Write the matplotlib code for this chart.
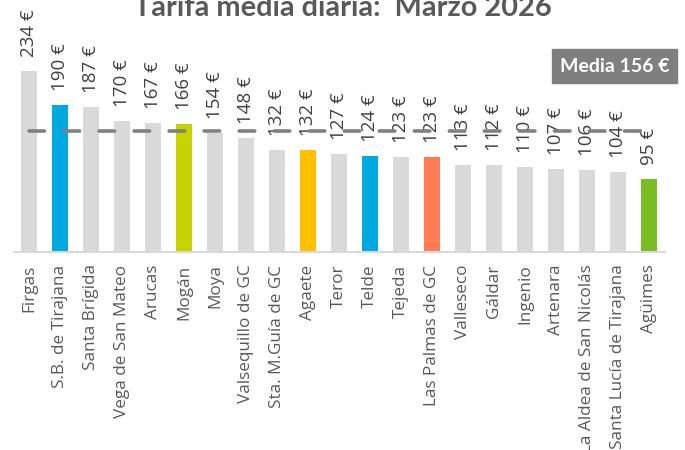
import matplotlib
matplotlib.use("Agg")
import matplotlib.pyplot as plt
from matplotlib.patches import Rectangle

municipios = ["Firgas", "S.B. de Tirajana", "Santa Brígida", "Vega de San Mateo",
              "Arucas", "Mogán", "Moya", "Valsequillo de GC", "Sta. M.Guía de GC",
              "Agaete", "Teror", "Telde", "Tejeda", "Las Palmas de GC", "Valleseco",
              "Gáldar", "Ingenio", "Artenara", "La Aldea de San Nicolás",
              "Santa Lucía de Tirajana", "Agüimes"]
tarifa = [234, 190, 187, 170, 167, 166, 154, 148, 132, 132, 127, 124, 123, 123,
          113, 112, 110, 107, 106, 104, 95]
media = 156
destacados = {
    "S.B. de Tirajana": "#00a9e0",
    "Telde": "#00a9e0",
    "Mogán": "#c6d300",
    "Agaete": "#ffc000",
    "Las Palmas de GC": "#ff7c55",
    "Agüimes": "#78bd21",
}
gris = "#d9d9d9"

fig = plt.figure(figsize=(6.85, 4.5), dpi=100)
ax = fig.add_axes([13.5 / 685, 1 - 252 / 450, 651 / 685, 232 / 450])

x = list(range(len(municipios)))
colores = [destacados.get(m, gris) for m in municipios]
ax.bar(x, tarifa, width=16 / 31, color=colores, zorder=2)

# linea de la media
ax.plot([x[0], x[-1]], [media, media], color="#808080", lw=2.6,
        dashes=(4.3, 5.4), dash_capstyle="round", zorder=4)

for xi, v in zip(x, tarifa):
    ax.annotate(f"{v} €", (xi, v), xytext=(0, 10), textcoords="offset points",
                rotation=90, ha="center", va="bottom", fontsize=13.5,
                family="Open Sans", color="#404040", zorder=3,
                annotation_clip=False)

ax.set_xlim(-0.5, len(municipios) - 0.5)
ax.set_ylim(0, 300)
ax.set_xticks(x)
ax.set_xticklabels(municipios, rotation=90, fontsize=12.3, family="Open Sans",
                   color="#595959")
ax.tick_params(axis="x", length=0, pad=9)
ax.set_yticks([])
for s in ["left", "right", "top"]:
    ax.spines[s].set_visible(False)
ax.spines["bottom"].set_color(gris)
ax.spines["bottom"].set_linewidth(1.5)

fig.text(343 / 685, 1 - 16.5 / 450, "Tarifa media diaria:  Marzo 2026", ha="center",
         va="baseline", fontsize=20.8, fontweight="bold", family="Lato",
         color="#595959")

fig.patches.append(Rectangle((552 / 685, 1 - 83 / 450), 125 / 685, 34 / 450,
                             transform=fig.transFigure, color="#7f7f7f"))
fig.text(614.5 / 685, 1 - 66 / 450, f"Media {media} €", ha="center", va="center",
         fontsize=14, fontweight="bold", family="Lato", color="white")

fig.savefig("out.png", dpi=100)
